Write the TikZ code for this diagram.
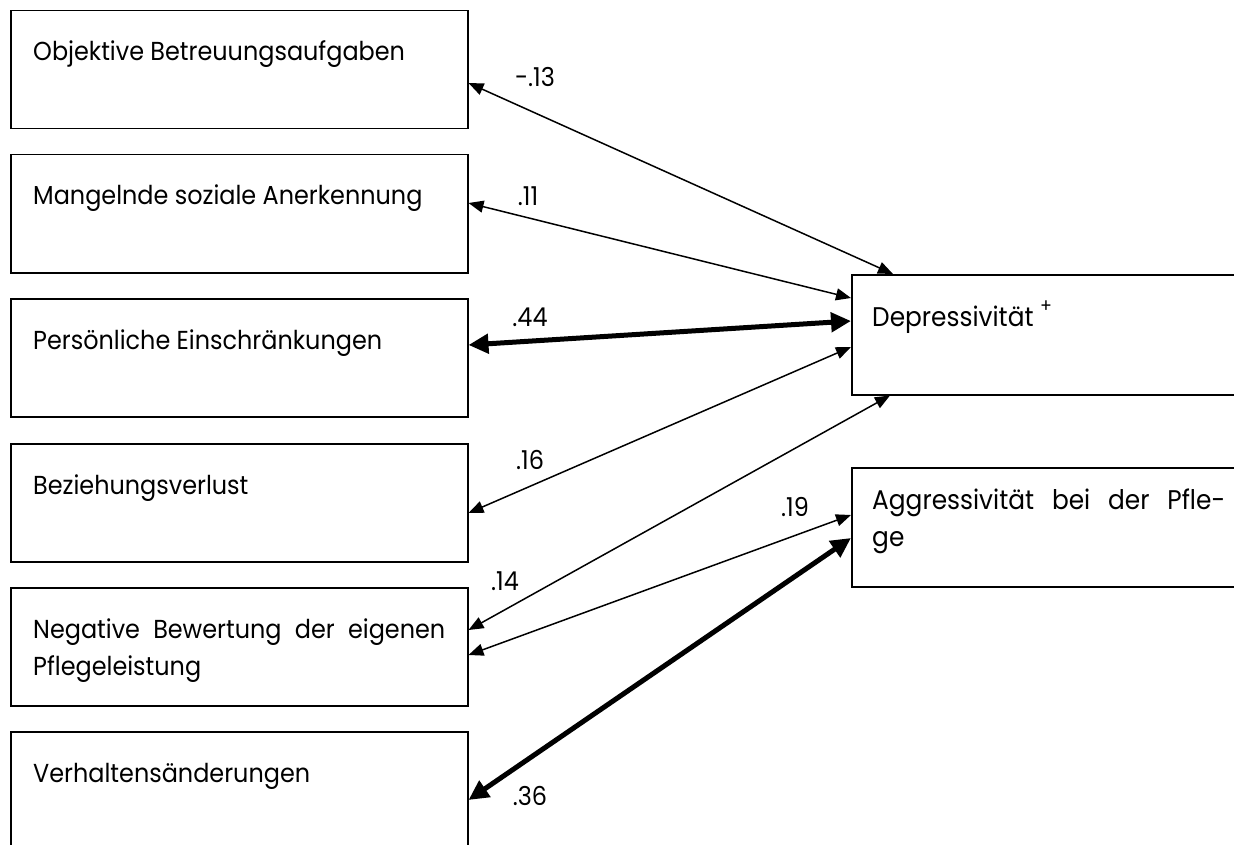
\documentclass[tikz,border=0pt]{standalone}
\usepackage{fontspec}
\setmainfont{Poppins}[FakeStretch=0.92]
\usetikzlibrary{arrows.meta,calc}
\begin{document}
\begin{tikzpicture}[x=1pt,y=-1pt,
  box/.style={draw,line width=1.5pt,minimum width=457pt,minimum height=118pt,anchor=north west,inner sep=0pt},
  rbox/.style={draw,line width=1.5pt,minimum width=420pt,minimum height=120pt,anchor=north west,inner sep=0pt},
  txt/.style={anchor=base west,inner sep=0pt,align=left,font=\fontsize{26}{37}\selectfont},
  rtxt/.style={anchor=base west,inner sep=0pt,align=left,font=\fontsize{27}{37}\selectfont},
  lbl/.style={inner sep=0pt,font=\fontsize{26}{28}\selectfont},
  conn/.style={line width=1.5pt,{Triangle[length=15pt,width=12pt]}-{Triangle[length=15pt,width=12pt]}},
  strong/.style={line width=5pt,{Triangle[length=20pt,width=19pt]}-{Triangle[length=20pt,width=19pt]}}]
\useasboundingbox (0,0) rectangle (1234,845);
\clip (0,0) rectangle (1234,845);
% left boxes
\node[box] (b1) at (10,10) {};
\node[box] (b2) at (10,154) {};
\node[box] (b3) at (10,298) {};
\node[box] (b4) at (10,443) {};
\node[box] (b5) at (10,587) {};
\node[box,minimum height=130pt] (b6) at (10,731) {};
% right boxes
\node[rbox] (dep) at (851,274) {};
\node[rbox,minimum height=119pt] (agg) at (851,467) {};
% texts
\node[txt] (t1) at (33,61) {Objektive Betreuungsaufgaben};
\node[txt] (t2) at (33,205) {Mangelnde soziale Anerkennung};
\node[txt] (t3) at (33,349) {Persönliche Einschränkungen};
\node[txt] (t4) at (33,494) {Beziehungsverlust};
\node[txt] (t5) at (33,675) {\makebox[412pt][s]{Negative Bewertung der eigenen}\\Pflegeleistung};
\node[txt] (t6) at (33,782) {Verhaltensänderungen};
\node[rtxt] (td) at (872,326) {Depressivität \raisebox{4pt}{\textsuperscript{+}}};
\node[rtxt] (ta) at (872,546) {\makebox[353pt][s]{Aggressivität bei der Pfle-}\\ge};
% connectors
\draw[conn] ($(b1.north east)+(0,73)$) -- ($(dep.north west)+(42,0)$);
\draw[conn] ($(b2.north east)+(0,49)$) -- ($(dep.north west)+(0,24)$);
\draw[strong] ($(b3.north east)+(0,47)$) -- ($(dep.north west)+(0,47)$);
\draw[conn] ($(b4.north east)+(0,70)$) -- ($(dep.north west)+(0,73)$);
\draw[conn] ($(b5.north east)+(0,43)$) -- ($(dep.south west)+(39,0)$);
\draw[conn] ($(b5.north east)+(0,68)$) -- ($(agg.north west)+(0,48)$);
\draw[strong] ($(b6.north east)+(0,69)$) -- ($(agg.north west)+(0,71)$);
% labels
\node[lbl] (l1) at (535,77) {-.13};
\node[lbl] (l2) at (528,196) {.11};
\node[lbl] (l3) at (530,317) {.44};
\node[lbl] (l4) at (530,460) {.16};
\node[lbl] (l5) at (505,581) {.14};
\node[lbl] (l6) at (795,507) {.19};
\node[lbl] (l7) at (530,796) {.36};
\end{tikzpicture}
\end{document}
